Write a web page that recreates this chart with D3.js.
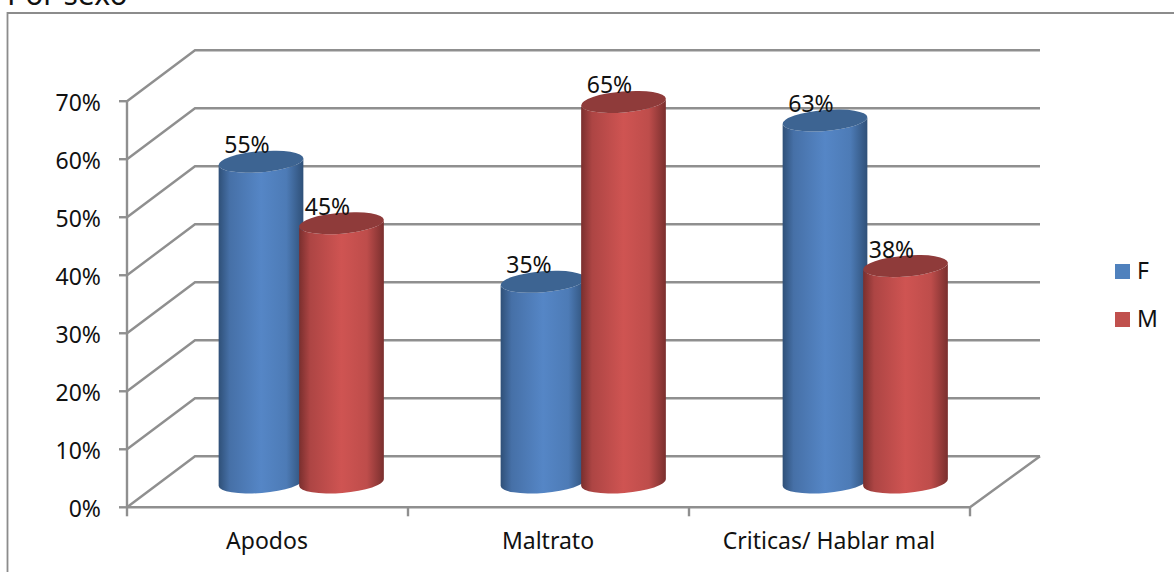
<!DOCTYPE html>
<html><head><meta charset="utf-8">
<script src="https://cdnjs.cloudflare.com/ajax/libs/d3/7.8.5/d3.min.js"></script>
<style>html,body{margin:0;padding:0;background:#fff}svg{display:block}text{font-family:"Noto Sans","Open Sans",sans-serif;fill:#111}</style>
</head><body><svg id="c" width="1174" height="572"></svg>
<script>
const categories = ["Apodos", "Maltrato", "Criticas/ Hablar mal"];
const seriesNames = ["F", "M"];
const valuesF = [55.3, 34.6, 62.4];
const valuesM = [44.7, 65.6, 37.3];
const labelsF = ["55%", "35%", "63%"];
const labelsM = ["45%", "65%", "38%"];
const yTicks = [0, 10, 20, 30, 40, 50, 60, 70];
const titleText = "Por sexo";

const svg = d3.select("#c");
const W = 1174, H = 572;
const colors = {F: {mid: "#5586c6", edge: "#2f5078", top: "#3d6492", key: "#4f81bd"},
                M: {mid: "#cf5452", edge: "#7a2f2e", top: "#8f3b3a", key: "#c0504d"}};
const defs = svg.append("defs");
for (const s of seriesNames) {
  const g = defs.append("linearGradient").attr("id", "g" + s);
  [[0, colors[s].edge], [0.13, d3.interpolateRgb(colors[s].edge, colors[s].mid)(0.6)], [0.5, colors[s].mid], [0.8, d3.interpolateRgb(colors[s].edge, colors[s].mid)(0.8)], [1, colors[s].edge]]
    .forEach(([o, c]) => g.append("stop").attr("offset", o).attr("stop-color", c));
}
const y = d3.scaleLinear().domain([0, 70]).range([507.3, 101.2]);
const x0 = d3.scaleBand().domain(categories).range([127, 970]);
const xBars = d3.scaleBand().domain(categories).range([128, 974]);
const depth = {dx: 68, dy: -51};
const gridC = "#8f8f8f";

// frame
svg.append("path").attr("d", `M7.5,${H}V13H${W}`).attr("fill", "none").attr("stroke", "#8c8c8c").attr("stroke-width", 1.8);
svg.append("text").text(titleText).attr("x", 7).attr("y", 5).attr("font-size", 30);

// walls + grid
const grid = svg.append("g").attr("fill", "none").attr("stroke", gridC).attr("stroke-width", 2.4);
yTicks.forEach(t => {
  const p = y(t);
  grid.append("path").attr("d", d3.line()([[127, p], [127 + depth.dx, p + depth.dy], [1040, p + depth.dy]]));
});
grid.append("path").attr("d", d3.line()([[127, y(0)], [970, y(0)], [1040, y(0) + depth.dy]]));
grid.append("path").attr("d", d3.line()([[127, y(0)], [127, y(70)]]));
yTicks.forEach(t => grid.append("path").attr("d", d3.line()([[119, y(t)], [127, y(t)]])));
x0.domain().concat([null]).forEach((c, i) => {
  const px = 127 + i * x0.bandwidth();
  grid.append("path").attr("d", d3.line()([[px, y(0)], [px, y(0) + 9]]));
});

// y labels
svg.append("g").selectAll("text").data(yTicks).join("text")
  .text(d => d + "%").attr("x", 101).attr("y", d => y(d) + 9.5).attr("text-anchor", "end").attr("font-size", 23);
// cat labels
svg.append("g").selectAll("text").data(categories).join("text")
  .text(d => d).attr("x", d => x0(d) + x0.bandwidth() / 2 - 0.5).attr("y", 549).attr("text-anchor", "middle").attr("font-size", 23);

// cylinders
const rx = 42.5, ry = 10.5, rot = -4.7, base = 482.5;
const tx = Math.cos(rot * Math.PI / 180) * rx, ty = Math.sin(rot * Math.PI / 180) * rx;
const hScale = v => y(0) - y(v);
const offset = {F: 133, M: 213.5};
const cyl = svg.append("g");
const labels = svg.append("g");
categories.forEach((c, i) => {
  [["F", valuesF[i], labelsF[i]], ["M", valuesM[i], labelsM[i]]].forEach(([s, v, lab]) => {
    const cx = xBars(c) + offset[s];
    const top = base - hScale(v);
    const L = cx - tx, R = cx + tx;
    cyl.append("path").attr("fill", `url(#g${s})`).attr("d",
      `M${L},${top - ty}L${L},${base - ty}A${rx},${ry},${rot},0,0,${R},${base + ty}L${R},${top + ty}A${rx},${ry},${rot},0,1,${L},${top - ty}Z`);
    cyl.append("ellipse").attr("cx", 0).attr("cy", 0).attr("rx", rx).attr("ry", ry).attr("fill", colors[s].top)
      .attr("transform", `translate(${cx},${top}) rotate(${rot})`);
    labels.append("text").text(lab).attr("x", cx - 14).attr("y", top - 8.5).attr("text-anchor", "middle").attr("font-size", 23);
  });
});

// legend
const leg = svg.append("g");
seriesNames.forEach((s, i) => {
  const ly = 264 + i * 48;
  leg.append("rect").attr("x", 1115).attr("y", ly).attr("width", 15).attr("height", 15).attr("fill", colors[s].key);
  leg.append("text").text(s).attr("x", 1137).attr("y", ly + 15).attr("font-size", 23);
});
</script></body></html>
